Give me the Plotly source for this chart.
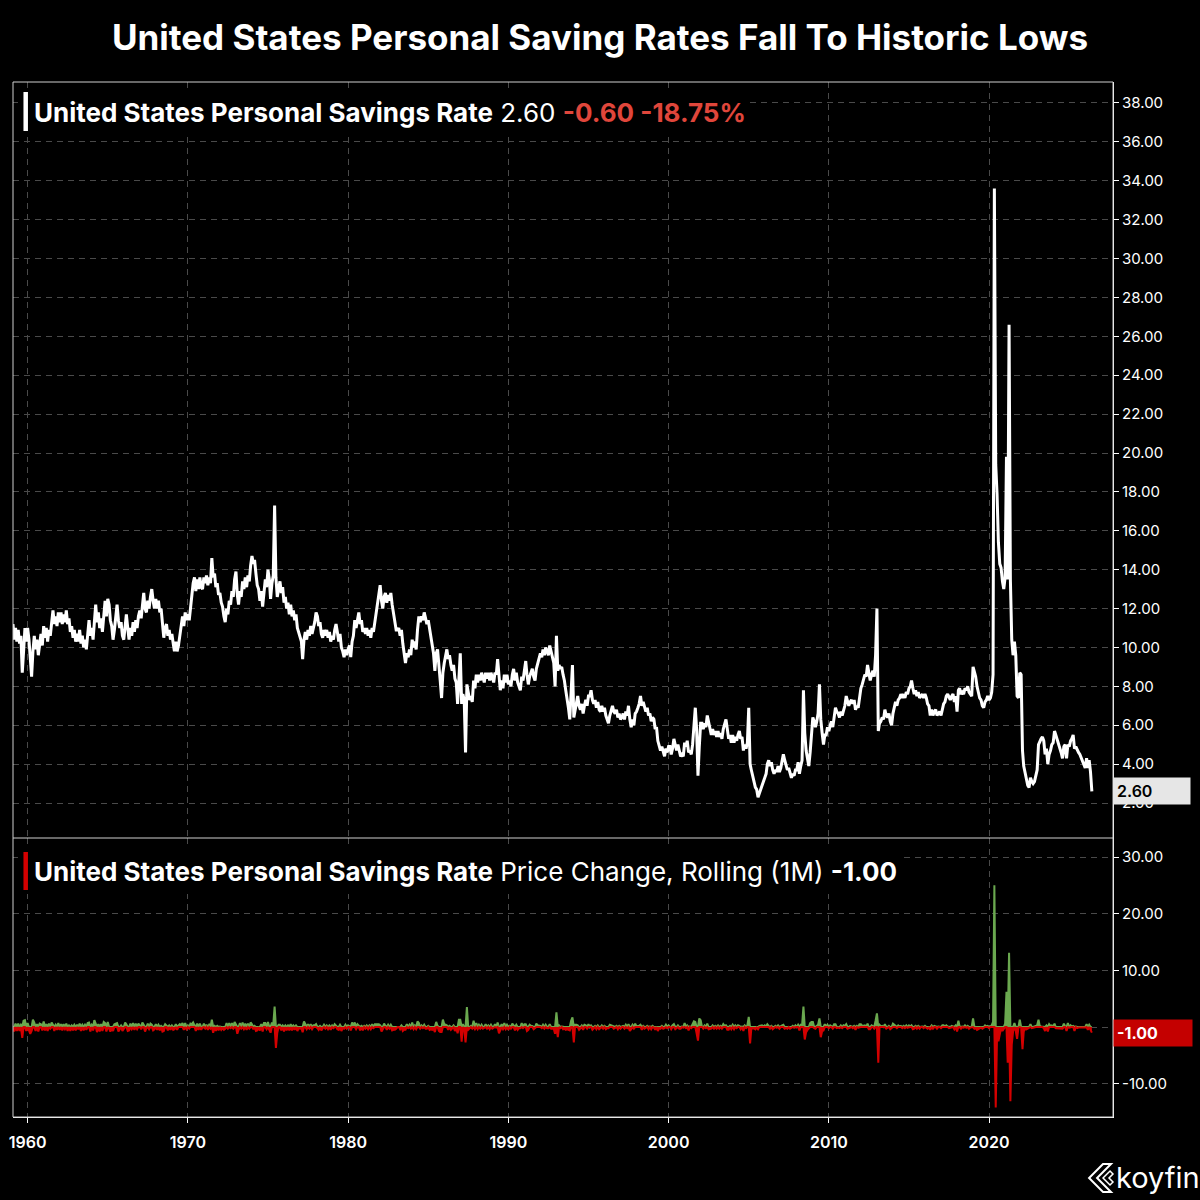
import numpy as np
import pandas as pd
import plotly.graph_objects as go

# ---------------- DATA (monthly, month-end) ----------------
sr_1959_1969 = [
    11.2, 10.4, 11.0, 10.3, 10.9, 10.2, 10.6, 8.7, 9.8, 11.0, 10.3, 11.0,   # 1959
    10.4, 9.2, 8.5, 9.8, 10.6, 9.9, 10.4, 9.6, 10.2, 10.7, 10.1, 11.1,     # 1960
    10.5, 11.0, 10.3, 10.9, 10.6, 11.4, 11.9, 11.2, 11.6, 11.1, 11.8, 11.3, # 1961
    11.8, 11.2, 11.7, 11.3, 11.9, 11.2, 11.5, 10.8, 11.1, 10.5, 10.9, 10.3, # 1962
    10.7, 10.3, 10.9, 10.2, 10.6, 10.0, 10.4, 9.9, 10.6, 11.4, 10.6, 11.0,  # 1963
    10.4, 11.6, 12.2, 11.3, 11.8, 11.0, 11.5, 10.8, 11.7, 12.4, 11.6, 12.5, # 1964
    12.2, 11.4, 11.1, 10.4, 10.9, 11.5, 12.2, 11.4, 11.0, 11.3, 10.6, 10.4, # 1965
    11.2, 11.7, 11.0, 10.4, 11.0, 10.6, 11.3, 10.8, 11.4, 11.0, 11.6, 11.9, # 1966
    11.5, 12.3, 12.8, 12.0, 11.8, 12.4, 12.0, 12.6, 13.0, 12.4, 12.0, 12.5, # 1967
    12.0, 12.4, 11.8, 12.0, 11.2, 10.5, 11.0, 11.2, 10.6, 10.9, 10.4, 10.7, # 1968
    10.2, 9.8, 10.3, 9.8, 10.1, 10.6, 10.9, 11.6, 11.1, 11.8, 11.4, 11.7,  # 1969
]
sr_1970s = [
    11.4, 12.0, 12.5, 13.3, 13.6, 12.9, 13.5, 13.0, 13.6, 13.1, 13.0, 13.6, # 1970
    13.3, 13.7, 13.2, 13.6, 13.3, 14.6, 13.6, 13.8, 13.1, 13.3, 12.7, 12.8, # 1971
    12.3, 12.1, 11.6, 11.3, 12.0, 11.7, 12.4, 12.2, 12.9, 12.6, 13.5, 13.9, # 1972
    12.7, 12.2, 12.9, 12.6, 13.4, 13.0, 13.6, 13.1, 13.7, 13.4, 14.2, 14.7, # 1973
    14.3, 14.5, 13.8, 13.2, 13.0, 12.4, 12.9, 12.1, 12.8, 13.5, 13.1, 14.0, # 1974
    13.5, 12.5, 13.3, 13.7, 17.3, 13.6, 12.6, 13.0, 13.4, 12.8, 13.1, 12.3, # 1975
    12.6, 12.0, 12.3, 11.7, 12.2, 11.6, 11.9, 11.4, 11.7, 11.0, 10.8, 10.5, # 1976
    10.3, 9.4, 10.4, 10.8, 10.4, 10.9, 10.6, 11.1, 10.7, 11.0, 11.3, 11.8,  # 1977
    11.6, 11.1, 11.3, 10.7, 10.5, 10.9, 10.6, 10.9, 10.5, 10.8, 10.3, 10.6, # 1978
    10.4, 10.9, 11.2, 10.8, 10.3, 10.7, 10.0, 9.8, 9.5, 9.9, 9.6, 9.9,      # 1979
]
sr_1980s = [
    10.1, 9.5, 10.3, 10.6, 11.4, 11.0, 11.5, 11.8, 11.2, 11.4, 10.8, 11.0,  # 1980
    10.7, 11.0, 10.6, 10.9, 10.5, 11.0, 10.8, 11.3, 11.8, 12.4, 12.9, 13.2, # 1981
    12.4, 12.0, 12.6, 12.8, 12.3, 12.7, 12.4, 12.8, 12.2, 11.7, 11.2, 10.9, # 1982
    10.9, 11.0, 10.6, 10.9, 10.2, 9.7, 9.2, 9.7, 9.5, 9.9, 9.6, 10.4,       # 1983
    10.0, 10.3, 9.9, 10.9, 11.6, 11.3, 11.6, 11.4, 11.8, 11.5, 11.2, 11.4,  # 1984
    10.9, 10.5, 10.0, 9.7, 8.8, 9.7, 9.9, 9.2, 8.3, 7.4, 8.7, 9.2,          # 1985
    9.6, 9.9, 9.4, 9.6, 9.1, 8.8, 9.1, 8.4, 8.2, 7.1, 8.4, 9.7,             # 1986
    7.1, 7.6, 7.3, 4.6, 8.1, 7.6, 7.3, 7.5, 7.2, 8.3, 7.9, 8.6,             # 1987
    8.2, 8.6, 8.3, 8.7, 8.4, 8.2, 8.7, 8.4, 8.7, 8.3, 8.7, 8.4,             # 1988
    8.2, 8.7, 8.6, 9.4, 8.3, 7.8, 8.3, 7.9, 8.6, 8.2, 8.6, 8.1,             # 1989
]
sr_1990s = [
    8.3, 8.0, 8.6, 8.9, 8.3, 8.7, 8.2, 8.0, 7.8, 8.5, 8.3, 8.8,             # 1990
    9.3, 8.6, 8.1, 8.5, 8.7, 8.9, 8.5, 8.3, 8.9, 9.2, 9.5, 9.7,             # 1991
    9.5, 9.9, 9.6, 10.0, 9.8, 9.6, 10.1, 9.8, 9.5, 9.2, 8.0, 10.6,          # 1992
    8.8, 9.1, 8.9, 9.0, 8.6, 8.3, 7.8, 7.4, 6.9, 6.3, 7.4, 9.1,             # 1993
    6.4, 6.8, 7.2, 7.5, 7.0, 6.8, 7.1, 6.6, 7.0, 7.3, 7.0, 7.5,             # 1994
    7.5, 7.8, 7.3, 7.1, 7.3, 6.9, 7.2, 6.8, 6.7, 7.0, 6.7, 6.9,             # 1995
    6.5, 6.3, 6.1, 6.5, 6.8, 7.0, 6.7, 6.6, 6.8, 6.4, 6.6, 6.3,             # 1996
    6.4, 6.6, 6.3, 6.7, 6.5, 7.0, 6.3, 5.9, 6.3, 6.0, 6.6, 6.7,             # 1997
    6.9, 7.1, 7.5, 7.0, 7.2, 6.9, 6.7, 6.9, 6.5, 6.6, 6.2, 6.4,             # 1998
    6.3, 5.8, 5.9, 5.2, 5.0, 4.7, 4.9, 4.6, 4.4, 4.8, 4.6, 4.9,             # 1999
]
sr_2000s = [
    4.9, 4.5, 4.8, 5.3, 4.9, 4.7, 5.0, 4.7, 4.4, 4.5, 4.4, 5.1,             # 2000
    4.9, 5.2, 4.6, 4.7, 4.5, 5.0, 6.0, 6.9, 5.8, 3.4, 4.9, 6.1,             # 2001
    6.1, 5.8, 6.1, 5.9, 6.5, 6.1, 5.8, 5.5, 5.8, 5.5, 5.7, 5.4,             # 2002
    5.7, 5.4, 5.6, 5.3, 5.8, 6.0, 6.3, 5.8, 5.3, 5.5, 5.1, 5.5,             # 2003
    5.1, 5.4, 5.2, 5.5, 5.7, 5.3, 5.4, 4.7, 5.0, 4.8, 5.1, 6.9,             # 2004
    4.0, 3.7, 3.4, 3.2, 2.8, 2.7, 2.3, 2.5, 2.7, 3.0, 3.1, 3.4,             # 2005
    3.5, 4.0, 4.2, 3.9, 4.1, 3.7, 3.5, 3.7, 3.6, 3.9, 3.6, 3.8,             # 2006
    4.1, 4.5, 4.2, 4.0, 3.7, 3.8, 3.5, 3.3, 3.5, 3.4, 3.7, 3.7,             # 2007
    4.1, 3.5, 3.9, 4.2, 7.8, 5.6, 4.7, 4.2, 3.9, 4.6, 5.5, 6.4,             # 2008
    6.2, 5.9, 6.2, 6.6, 8.1, 6.3, 5.6, 5.0, 5.5, 5.5, 5.9, 5.7,             # 2009
]
sr_2010s = [
    6.0, 6.2, 5.9, 6.4, 6.9, 6.7, 6.6, 6.4, 6.7, 6.5, 6.8, 7.0,             # 2010
    7.5, 7.2, 7.0, 7.2, 7.3, 7.1, 7.3, 6.8, 7.0, 6.9, 7.4, 7.9,             # 2011
    8.1, 8.3, 8.6, 8.5, 9.1, 8.7, 8.3, 8.6, 8.8, 8.5, 9.6, 12.0,            # 2012
    5.7, 6.1, 6.2, 6.4, 6.3, 6.8, 6.5, 6.4, 6.6, 6.2, 6.0, 6.6,             # 2013
    7.0, 7.2, 7.0, 7.3, 7.4, 7.6, 7.4, 7.6, 7.4, 7.7, 7.6, 7.9,             # 2014
    8.0, 8.3, 7.9, 7.6, 7.8, 7.5, 7.7, 7.4, 7.5, 7.6, 7.4, 7.6,             # 2015
    7.4, 7.1, 7.0, 6.5, 6.8, 6.5, 6.7, 6.8, 6.5, 6.6, 6.7, 6.5,             # 2016
    6.8, 7.1, 7.2, 7.5, 7.6, 7.4, 7.3, 7.5, 7.6, 7.2, 7.5, 6.7,             # 2017
    7.8, 7.9, 7.6, 7.7, 7.6, 7.9, 7.8, 8.0, 7.7, 7.6, 7.5, 9.0,             # 2018
    8.7, 8.5, 8.0, 7.6, 7.4, 7.3, 7.0, 6.9, 7.2, 7.3, 7.5, 7.3,             # 2019
]
sr_2020s = [
    7.4, 7.7, 8.6, 33.6, 19.4, 17.9, 15.4, 14.3, 14.1, 13.4, 13.0, 13.6,    # 2020
    19.8, 13.5, 26.6, 13.5, 10.4, 9.6, 10.3, 9.6, 7.5, 7.4, 8.7, 8.6,       # 2021
    4.7, 3.9, 3.6, 3.2, 2.9, 2.8, 3.3, 3.1, 3.0, 3.1, 3.4, 3.7,             # 2022
    5.0, 5.2, 5.3, 5.4, 5.2, 4.5, 4.8, 4.0, 4.5, 4.7, 5.0, 5.1,             # 2023
    5.7, 5.5, 5.3, 5.0, 4.8, 4.6, 4.3, 4.9, 5.0, 4.3, 5.0, 4.9,             # 2024
    5.2, 5.3, 5.5, 4.8, 4.9, 4.7, 4.6, 4.5, 4.3, 4.1, 3.9, 3.8,             # 2025
    4.3, 3.8, 4.2, 3.6, 2.6,                                                # 2026
]

decade_ticks = ["1960", "1970", "1980", "1990", "2000", "2010", "2020"]
top_ticks = list(range(2, 40, 2))
bottom_ticks = [-10, 0, 10, 20, 30]

title_text = "United States Personal Saving Rates Fall To Historic Lows"
series_name = "United States Personal Savings Rate"
last_label = "2.60"
chg_label = "-0.60 -18.75%"
sub_label = "Price Change, Rolling (1M)"
sub_value = "-1.00"

# ---------------- BUILD ----------------
savings_rate = np.array(sr_1959_1969 + sr_1970s + sr_1980s + sr_1990s + sr_2000s + sr_2010s + sr_2020s)
dates = pd.date_range("1959-01-31", periods=len(savings_rate), freq="ME")
change = np.diff(savings_rate, prepend=savings_rate[0])
pos = np.where(change > 0, change, 0.0)
neg = np.where(change < 0, change, 0.0)

GREEN = "#6aa84f"
RED = "#d40000"
GRID = "#4a4a4a"
FONT = "Inter"

# pixel -> paper helpers (plot area x 9..1113, y 82..1117)
L, R, T, B = 9, 1113, 82, 1117
def px(x):
    return (x - L) / (R - L)
def py(y):
    return (B - y) / (B - T)

split = py(838)

fig = go.Figure()
fig.add_trace(go.Scatter(x=dates, y=savings_rate, mode="lines",
                         line=dict(color="white", width=3), xaxis="x", yaxis="y",
                         hoverinfo="skip"))
fig.add_trace(go.Scatter(x=dates, y=pos, mode="lines", fill="tozeroy",
                         fillcolor=GREEN, line=dict(color=GREEN, width=2),
                         xaxis="x", yaxis="y2", hoverinfo="skip"))
fig.add_trace(go.Scatter(x=dates, y=neg, mode="lines", fill="tozeroy",
                         fillcolor=RED, line=dict(color=RED, width=2),
                         xaxis="x", yaxis="y2", hoverinfo="skip"))

axis_font = dict(family=FONT, size=15, color="white")

fig.update_layout(
    width=1200, height=1200,
    paper_bgcolor="black", plot_bgcolor="black",
    margin=dict(l=L, r=1200 - R, t=T, b=1200 - B, pad=0),
    showlegend=False,
    title=dict(text=f"<b>{title_text}</b>", x=0.5, xanchor="center",
               y=1 - 38 / 1200, yanchor="middle", xref="container", yref="container",
               font=dict(family=FONT, size=35, color="white")),
    xaxis=dict(type="date", range=["1959-02-01", "2027-09-25"], anchor="y2",
               tickvals=[f"{t}-01-01" for t in decade_ticks], ticktext=decade_ticks,
               showgrid=True, gridcolor=GRID, griddash="6px,5px", gridwidth=1,
               ticks="outside", ticklen=5, tickcolor="white",
               tickfont=dict(family=FONT, size=16, color="white", weight=600),
               showline=True, linecolor="white", linewidth=1, zeroline=False,
               ticklabelstandoff=6),
    yaxis=dict(domain=[split, 1], side="right", anchor="x",
               range=[2 - (838 - 803) / 19.45, 38 + (103 - 82) / 19.45],
               tickvals=top_ticks, ticktext=[f"{v:.2f}" for v in top_ticks],
               showgrid=True, gridcolor=GRID, griddash="6px,5px", gridwidth=1,
               ticks="outside", ticklen=5, tickcolor="white", tickfont=axis_font,
               showline=True, linecolor="white", linewidth=1, zeroline=False),
    yaxis2=dict(domain=[0, split], side="right", anchor="x",
                range=[-10 - (1117 - 1083.7) / 5.667, 30 + (857 - 838) / 5.667],
                tickvals=bottom_ticks, ticktext=[f"{v:.2f}" for v in bottom_ticks],
                showgrid=True, gridcolor=GRID, griddash="6px,5px", gridwidth=1,
                ticks="outside", ticklen=5, tickcolor="white", tickfont=axis_font,
                showline=True, linecolor="white", linewidth=1, zeroline=False),
)

shapes = [
    # outer frame
    dict(type="rect", xref="paper", yref="paper", x0=0, x1=1, y0=0, y1=1,
         line=dict(color="#cfcfcf", width=1), layer="above"),
    # separator between panels
    dict(type="line", xref="paper", yref="paper", x0=0, x1=1, y0=split, y1=split,
         line=dict(color="#cfcfcf", width=1), layer="above"),
    # legend backgrounds
    dict(type="rect", xref="paper", yref="paper", x0=px(14), x1=px(748), y0=py(134), y1=py(88),
         fillcolor="black", line=dict(width=0), layer="above"),
    dict(type="rect", xref="paper", yref="paper", x0=px(14), x1=px(902), y0=py(894), y1=py(848),
         fillcolor="black", line=dict(width=0), layer="above"),
    # legend colour bars
    dict(type="rect", xref="paper", yref="paper", x0=px(19.5), x1=px(24), y0=py(131), y1=py(92),
         fillcolor="white", line=dict(width=0), layer="above"),
    dict(type="rect", xref="paper", yref="paper", x0=px(19.5), x1=px(24), y0=py(890), y1=py(852),
         fillcolor=RED, line=dict(width=0), layer="above"),
]

# koyfin chevron logo
def pth(points):
    s = "M " + " L ".join(f"{px(a):.5f},{py(b):.5f}" for a, b in points) + " Z"
    return s
shapes.append(dict(type="path", xref="paper", yref="paper",
                   path=pth([(1103, 1164), (1089, 1178), (1103, 1192), (1111, 1192), (1097, 1178), (1111, 1164)]),
                   line=dict(color="white", width=2), fillcolor="rgba(0,0,0,0)", layer="above"))
shapes.append(dict(type="path", xref="paper", yref="paper",
                   path=pth([(1103, 1178), (1110, 1171), (1113, 1174), (1109, 1178), (1113, 1182), (1110, 1185)]),
                   line=dict(color="white", width=1.5), fillcolor="rgba(0,0,0,0)", layer="above"))

annotations = [
    dict(xref="paper", yref="paper", x=px(28), y=py(112), xanchor="left", yanchor="middle",
         showarrow=False, font=dict(family=FONT, size=26, color="white"),
         text=f"<b>{series_name}</b> {last_label} <b><span style='color:#e0463b'>{chg_label}</span></b>"),
    dict(xref="paper", yref="paper", x=px(28), y=py(871), xanchor="left", yanchor="middle",
         showarrow=False, font=dict(family=FONT, size=26, color="white"),
         text=f"<b>{series_name}</b> {sub_label} <b>{sub_value}</b>"),
    dict(xref="paper", yref="y", x=1, y=float(savings_rate[-1]), xanchor="left", yanchor="middle",
         showarrow=False, bgcolor="#e6e6e6", width=70, height=20, align="left", borderpad=3,
         font=dict(family=FONT, size=16, color="black", weight=600), text=f"{savings_rate[-1]:.2f}"),
    dict(xref="paper", yref="y2", x=1, y=float(change[-1]), xanchor="left", yanchor="middle",
         showarrow=False, bgcolor="#c40000", width=72, height=20, align="left", borderpad=3,
         font=dict(family=FONT, size=16, color="white", weight=700), text=f"{change[-1]:.2f}"),
    dict(xref="paper", yref="paper", x=px(1114), y=py(1177), xanchor="left", yanchor="middle",
         showarrow=False, font=dict(family=FONT, size=29, color="white"), text="koyfin"),
]

fig.update_layout(shapes=shapes, annotations=annotations)
fig.write_html("out.html")
